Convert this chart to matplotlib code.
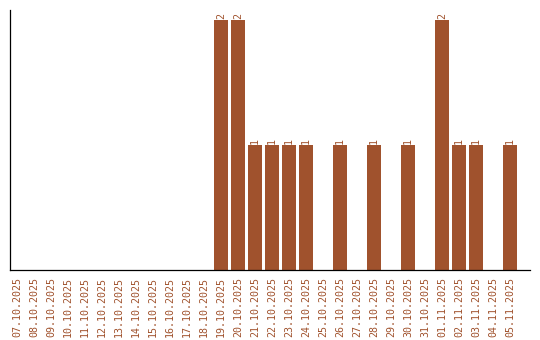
import matplotlib
matplotlib.use("Agg")
import matplotlib.pyplot as plt
import numpy as np

dates = ["07.10.2025", "08.10.2025", "09.10.2025", "10.10.2025", "11.10.2025",
         "12.10.2025", "13.10.2025", "14.10.2025", "15.10.2025", "16.10.2025",
         "17.10.2025", "18.10.2025", "19.10.2025", "20.10.2025", "21.10.2025",
         "22.10.2025", "23.10.2025", "24.10.2025", "25.10.2025", "26.10.2025",
         "27.10.2025", "28.10.2025", "29.10.2025", "30.10.2025", "31.10.2025",
         "01.11.2025", "02.11.2025", "03.11.2025", "04.11.2025", "05.11.2025"]
counts = [0, 0, 0, 0, 0, 0, 0, 0, 0, 0, 0, 0, 2, 2, 1, 1, 1, 1, 0, 1,
          0, 1, 0, 1, 0, 2, 1, 1, 0, 1]

color = "#A0522D"
plt.rcParams['font.family'] = ['DejaVu Sans Mono']

fig = plt.figure(figsize=(5.4, 3.4), dpi=100)
ax = fig.add_axes([10/540, 70/340, 520/540, 260/340])
x = np.arange(len(dates))
bars = ax.bar(x, counts, width=0.82, color=color)
for xi, v in zip(x, counts):
    if v > 0:
        ax.text(xi, v + 0.012, str(v), rotation=90, ha='center', va='bottom',
                fontsize=7.2, color=color)
ax.set_xlim(-0.41, 30.18)
ax.set_ylim(0, 2.08)
ax.set_xticks(x)
ax.set_xticklabels(dates, rotation=90, fontsize=7.2, color=color)
ax.tick_params(axis='x', length=0, pad=5)
ax.set_yticks([])
for s in ['top', 'right']:
    ax.spines[s].set_visible(False)
for s in ['left', 'bottom']:
    ax.spines[s].set_color('black')
    ax.spines[s].set_linewidth(0.9)
fig.savefig("out.png", dpi=100)
